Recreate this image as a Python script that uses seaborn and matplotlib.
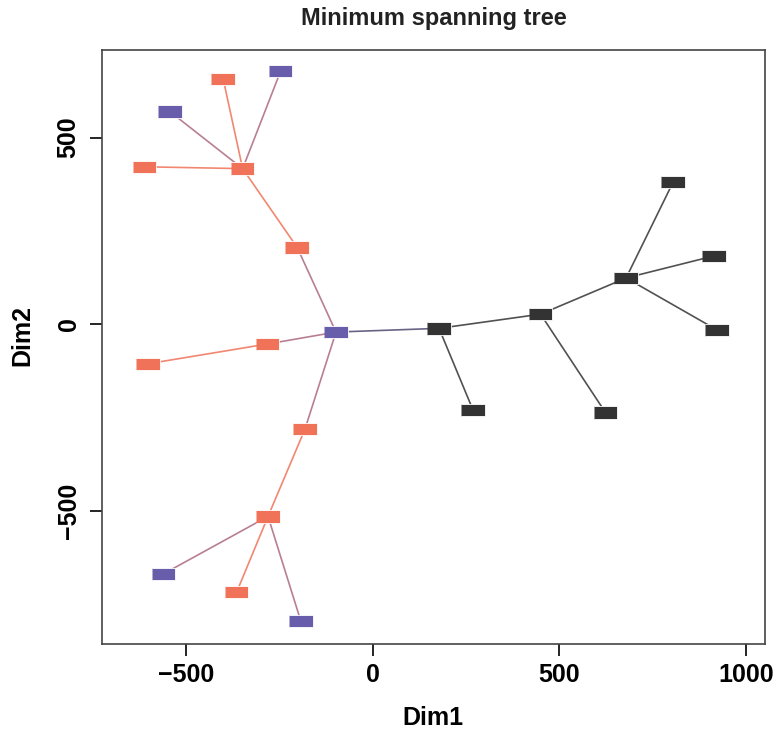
"""
Minimum spanning tree of samples in a 2-D embedding
"""
import matplotlib
matplotlib.use("Agg")
import matplotlib.pyplot as plt
import matplotlib.colors as mcolors
import seaborn as sns
import pandas as pd

sns.set_style("ticks")
plt.rcParams["font.family"] = ["Liberation Sans", "DejaVu Sans"]
plt.rcParams["font.weight"] = "bold"
plt.rcParams["text.color"] = "black"
plt.rcParams["xtick.labelcolor"] = "black"
plt.rcParams["ytick.labelcolor"] = "black"
plt.rcParams["axes.labelcolor"] = "black"

# node coordinates and their group
node_x = [-400, -246, -543, -611, -348, -202, -98, -282, -602, -181, -280,
          -560, -364, -192, 178, 269, 450, 624, 679, 805, 914, 922]
node_y = [657, 679, 570, 422, 417, 206, -21, -53, -106, -281, -515,
          -669, -718, -796, -11, -230, 27, -237, 124, 381, 183, -15]
node_group = ["A", "B", "B", "A", "A", "A", "B", "A", "A", "A", "A",
              "B", "A", "B", "C", "C", "C", "C", "C", "C", "C", "C"]

# tree edges as node index pairs
edge_from = [4, 4, 4, 4, 4, 5, 6, 7, 6, 9, 10, 10, 10, 6, 14, 14, 16, 16, 18, 18, 18]
edge_to = [0, 1, 2, 3, 5, 6, 7, 8, 9, 10, 11, 12, 13, 14, 15, 16, 17, 18, 19, 20, 21]

palette = {"A": "#F07258", "B": "#685DAA", "C": "#333333"}

df = pd.DataFrame({"Dim1": node_x, "Dim2": node_y, "group": node_group})

fig = plt.figure(figsize=(7.78, 7.36), dpi=100)
ax = fig.add_axes([101.5 / 778, 1 - 644 / 736, 663.5 / 778, 594 / 736])

# edges, coloured as a mix of the two end colours
for a, b in zip(edge_from, edge_to):
    ca = mcolors.to_rgb(palette[node_group[a]])
    cb = mcolors.to_rgb(palette[node_group[b]])
    col = tuple((u + v) / 2 for u, v in zip(ca, cb))
    ax.plot([node_x[a], node_x[b]], [node_y[a], node_y[b]],
            color=col, alpha=0.85, lw=1.2, zorder=1)

rect = [(-1, -0.53), (1, -0.53), (1, 0.53), (-1, 0.53)]
sns.scatterplot(data=df, x="Dim1", y="Dim2", hue="group", palette=palette,
                marker=rect, s=285, edgecolor="white", linewidth=0.6,
                legend=False, zorder=2, ax=ax)

ax.set_xlim(-726, 1051)
ax.set_ylim(-857, 735)
ax.set_xticks([-500, 0, 500, 1000])
ax.set_yticks([-500, 0, 500])
ax.tick_params(length=8.6, width=1.2, color="black", labelsize=18)
ax.tick_params(axis="x", pad=5)
ax.tick_params(axis="y", pad=6.5, labelrotation=90)
for t in ax.get_yticklabels():
    t.set_va("center")
for sp in ax.spines.values():
    sp.set_color("#444444")
    sp.set_linewidth(1.2)

ax.set_xlabel("Dim1", fontsize=18, fontweight="bold", va="center")
ax.set_ylabel("Dim2", fontsize=18, fontweight="bold", va="center")
ax.xaxis.set_label_coords(0.5, -74 / 594)
ax.yaxis.set_label_coords(-79 / 663.5, 0.52)

fig.text(434 / 778, 1 - 19 / 736, "Minimum spanning tree", ha="center",
         va="center", fontsize=17, fontweight="bold", color="#222222")

plt.savefig("out.png", dpi=100)
plt.close()
